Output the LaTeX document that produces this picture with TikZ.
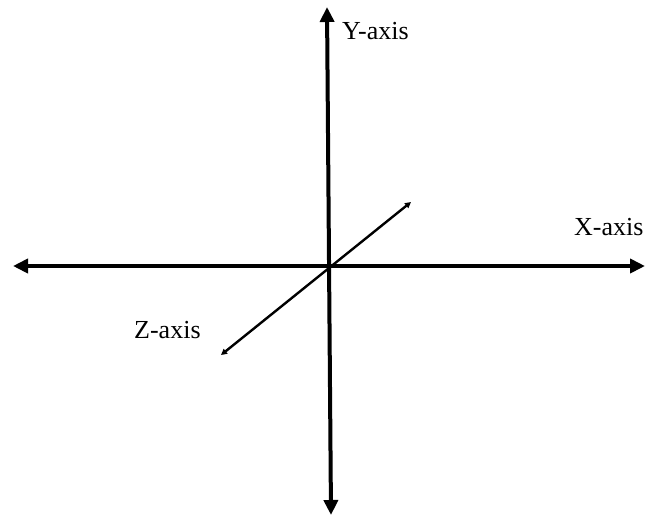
\documentclass[tikz,border=0pt]{standalone}
\usepackage{fontspec}
\setmainfont{Liberation Serif}
\usetikzlibrary{arrows.meta}
\begin{document}
\begin{tikzpicture}[x=1pt,y=-1pt,
  mainaxis/.style={line width=4pt,{Triangle[length=15pt,width=14pt]}-{Triangle[length=15pt,width=14pt]}},
  zaxis/.style={line width=2.4pt,{Triangle[length=6pt,width=6pt]}-{Triangle[length=6pt,width=6pt]}},
  lab/.style={font=\fontsize{26}{31}\selectfont,inner sep=0pt,anchor=base west}]
\useasboundingbox (0,0) rectangle (652,517);
\coordinate (xl) at (13,266);
\coordinate (xr) at (645,266);
\coordinate (yt) at (327,7);
\coordinate (yb) at (331,515);
\coordinate (zl) at (221,355);
\coordinate (zr) at (411,202);
\draw[mainaxis] (xl) -- (xr);
\draw[mainaxis] (yb) -- (yt);
\draw[zaxis] (zl) -- (zr);
\node[lab] (ylab) at (342,39) {Y-axis};
\node[lab] (xlab) at (574,235) {X-axis};
\node[lab] (zlab) at (134,338) {Z-axis};
\end{tikzpicture}
\end{document}
